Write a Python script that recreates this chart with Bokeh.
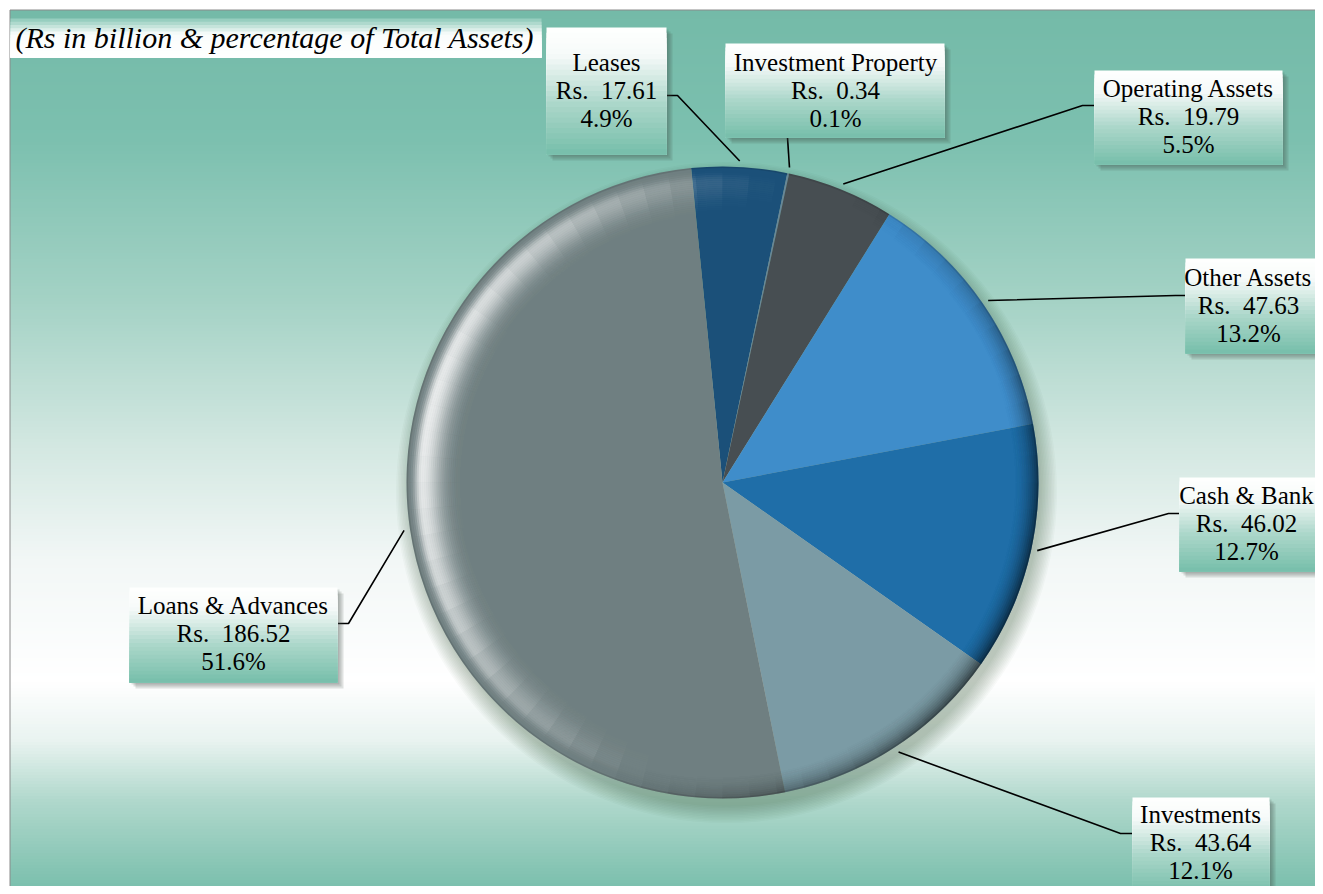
import numpy as np
from bokeh.plotting import figure
from bokeh.models import Range1d, ColumnDataSource
from bokeh.core.properties import value
from bokeh.embed import file_html
from bokeh.resources import INLINE

# ---------------- data ----------------
categories = ["Leases", "Investment Property", "Operating Assets", "Other Assets",
              "Cash & Bank", "Investments", "Loans & Advances"]
amounts = [17.61, 0.34, 19.79, 47.63, 46.02, 43.64, 186.52]
amount_labels = ["Rs.\u00a0 17.61", "Rs.\u00a0 0.34", "Rs.\u00a0 19.79", "Rs.\u00a0 47.63",
                 "Rs.\u00a0 46.02", "Rs.\u00a0 43.64", "Rs.\u00a0 186.52"]
percent_labels = ["4.9%", "0.1%", "5.5%", "13.2%", "12.7%", "12.1%", "51.6%"]
slice_colors = ["#1b5079", "#6a8799", "#474e52", "#3f8dca", "#1f6ea8", "#7b9ba5", "#6f7f81"]
title_text = "(Rs in billion & percentage of Total Assets)"

# ---------------- layout (picture pixel coords) ----------------
W, H = 1315, 886
CX, CY, R = 722, 482, 316
START_DEG = 95.7  # first slice starts just left of 12 o'clock, going clockwise

# label boxes: (x0, y0, x1, y1), text centre x, first line centre y, elbow point, end point
label_boxes = [
    ((546, 27, 666, 154), 606, 62, (677, 95), (666, 95)),
    ((725, 43, 944, 137), 835, 62, (787, 137), (787, 137)),
    ((1094, 70, 1282, 164), 1188, 88, (1082, 105), (1094, 105)),
    ((1185, 258, 1335, 353), 1248, 277, (1175, 295), (1185, 295)),
    ((1179, 477, 1335, 571), 1246, 495, (1168, 513), (1179, 513)),
    ((1132, 797, 1269, 892), 1200, 814, (1120, 833), (1132, 833)),
    ((129, 587, 337, 682), 233, 605, (348, 623), (337, 623)),
]
LINE_GAP = 28
FRAME_X, FRAME_Y = 9.5, 9.5


def py(y):
    return H - y


def lerp_stops(t, stops):
    for (t0, c0), (t1, c1) in zip(stops[:-1], stops[1:]):
        if t0 <= t <= t1:
            f = 0 if t1 == t0 else (t - t0) / (t1 - t0)
            c = [int(round(a + (b - a) * f)) for a, b in zip(c0, c1)]
            return "#%02x%02x%02x" % tuple(c)
    c = stops[-1][1] if t > stops[-1][0] else stops[0][1]
    return "#%02x%02x%02x" % tuple(c)


p = figure(width=W, height=H, output_backend="svg", toolbar_location=None,
           x_axis_type=None, y_axis_type=None, min_border=0,
           x_range=Range1d(0, W), y_range=Range1d(0, H))
p.grid.visible = False
p.outline_line_color = None
p.background_fill_color = "#ffffff"
p.border_fill_color = "#ffffff"

# ---------------- background gradient (stacked, overlapping strips) ----------------
bg_stops = [(8, (116, 186, 168)), (140, (124, 192, 175)), (300, (164, 210, 197)),
            (450, (212, 232, 226)), (560, (242, 247, 246)), (680, (255, 255, 255)),
            (740, (233, 243, 240)), (800, (176, 216, 204)), (894, (118, 189, 170))]
ys = np.arange(FRAME_Y, H, 3)
bg = ColumnDataSource(dict(
    left=[FRAME_X] * len(ys), right=[W] * len(ys),
    top=[py(y) for y in ys], bottom=[0] * len(ys),
    color=[lerp_stops(y + 1.5, bg_stops) for y in ys]))
p.quad(left="left", right="right", top="top", bottom="bottom", fill_color="color",
       line_color=None, source=bg)
p.line(x=[FRAME_X, FRAME_X, W], y=[0, py(FRAME_Y), py(FRAME_Y)],
       line_color="#8a8a8a", line_width=1)

# ---------------- pie shadow (soft, down-right) ----------------
for i in range(12):
    p.circle(x=CX + 4, y=py(CY + 10), radius=R - 2 + i * 1.5,
             fill_color="#1e3a34", fill_alpha=0.026, line_color=None)

# ---------------- pie ----------------
vals = np.array(amounts, dtype=float)
fr = vals / vals.sum()
cum = np.concatenate([[0], np.cumsum(fr)])
start = np.radians(START_DEG) - 2 * np.pi * cum[:-1]
end = np.radians(START_DEG) - 2 * np.pi * cum[1:]
pie = ColumnDataSource(dict(x=[CX] * len(vals), y=[py(CY)] * len(vals),
                            start=start, end=end, color=slice_colors, cat=categories))
p.wedge(x="x", y="y", radius=R, start_angle="start", end_angle="end",
        direction="clock", fill_color="color", line_color=None, source=pie)

# bevel shading: overlapping cells (each cell overlaps its neighbours by half)
light_dir = np.radians(168)
dark_dir = np.radians(335)
bx, by, ir, orr, sa, ea, cc, aa = [], [], [], [], [], [], [], []
for r0 in np.arange(R - 64, R - 1, 2.0):
    r1 = min(r0 + 4, R)
    rm = (r0 + r1) / 2
    for a0 in np.radians(np.arange(0, 360, 5)):
        am = a0 + np.radians(5)
        lt = np.cos(am - light_dir)
        if lt > 0:
            d = rm - (R - 15)
            sig = 14.0 if d < 0 else 5.0
            a = 0.85 * lt ** 1.4 * np.exp(-(d ** 2) / (2 * sig ** 2))
            if a >= 0.01:
                bx.append(CX); by.append(py(CY)); ir.append(r0); orr.append(r1)
                sa.append(a0); ea.append(a0 + np.radians(10)); cc.append("#ffffff")
                aa.append(1 - (1 - a) ** 0.25)
        dk = np.cos(am - dark_dir)
        if dk > 0:
            edge = max(0.0, (rm - (R - 26)) / 26.0) ** 2
            a = 0.6 * dk ** 1.2 * edge
            if a >= 0.01:
                bx.append(CX); by.append(py(CY)); ir.append(r0); orr.append(r1)
                sa.append(a0); ea.append(a0 + np.radians(10)); cc.append("#000000")
                aa.append(1 - (1 - a) ** 0.25)
p.annular_wedge(x="x", y="y", inner_radius="ir", outer_radius="orr",
                start_angle="sa", end_angle="ea", fill_color="c", fill_alpha="a",
                line_color=None,
                source=ColumnDataSource(dict(x=bx, y=by, ir=ir, orr=orr, sa=sa, ea=ea, c=cc, a=aa)))
p.annulus(x=CX, y=py(CY), inner_radius=R - 1.5, outer_radius=R,
          fill_color="#000000", fill_alpha=0.1, line_color=None)

# ---------------- leader lines ----------------
mid = (start + end) / 2
xs_l, ys_l = [], []
for i, (box, tcx, tcy, elbow, endp) in enumerate(label_boxes):
    ax = CX + (R + 6) * np.cos(mid[i])
    ay = CY - (R + 6) * np.sin(mid[i])
    xs_l.append([ax, elbow[0], endp[0]])
    ys_l.append([py(ay), py(elbow[1]), py(endp[1])])
p.multi_line(xs=xs_l, ys=ys_l, line_color="#000000", line_width=1.6)

# ---------------- label boxes ----------------
box_stops = [(0.0, (255, 255, 255)), (0.22, (246, 250, 249)), (0.6, (172, 215, 202)),
             (1.0, (118, 190, 170))]
sl, sr, st, sb, scol = [], [], [], [], []
shl, shr, sht, shb, sha = [], [], [], [], []
NS = 24
for box, tcx, tcy, elbow, endp in label_boxes:
    x0, y0, x1, y1 = box
    for off in [6, 4, 2]:
        shl.append(x0 + off); shr.append(x1 + off)
        sht.append(py(y0 + off)); shb.append(py(y1 + off)); sha.append(0.16)
    hgt = (y1 - y0) / NS
    for k in range(NS):
        sl.append(x0); sr.append(x1)
        st.append(py(y0 + k * hgt)); sb.append(py(y1))
        scol.append(lerp_stops((k + 0.5) / NS, box_stops))
p.quad(left="l", right="r", top="t", bottom="b", fill_color="#3c4a46", fill_alpha="a",
       line_color=None, source=ColumnDataSource(dict(l=shl, r=shr, t=sht, b=shb, a=sha)))
p.quad(left="l", right="r", top="t", bottom="b", fill_color="c", line_color=None,
       source=ColumnDataSource(dict(l=sl, r=sr, t=st, b=sb, c=scol)))

tx, ty, tt = [], [], []
for i, (box, tcx, tcy, elbow, endp) in enumerate(label_boxes):
    for j, line in enumerate([categories[i], amount_labels[i], percent_labels[i]]):
        tx.append(tcx); ty.append(py(tcy + j * LINE_GAP)); tt.append(line)
p.text(x="x", y="y", text="t", source=ColumnDataSource(dict(x=tx, y=ty, t=tt)),
       text_font=value("Liberation Serif"), text_font_size="25px",
       text_align="center", text_baseline="middle", text_color="#000000")

# ---------------- title box ----------------
title_stops = [(0.0, (140, 200, 184)), (0.4, (250, 253, 252)), (1.0, (255, 255, 255))]
tl, tr_, tt_, tb_, tc_ = [], [], [], [], []
for k in range(12):
    y0 = 18 + k * (57 - 18) / 12
    tl.append(10); tr_.append(541); tt_.append(py(y0)); tb_.append(py(57))
    tc_.append(lerp_stops((k + 0.5) / 12, title_stops))
p.quad(left="l", right="r", top="t", bottom="b", fill_color="c", line_color=None,
       source=ColumnDataSource(dict(l=tl, r=tr_, t=tt_, b=tb_, c=tc_)))
p.text(x=[15], y=[py(37)], text=[title_text], text_font=value("Liberation Serif"),
       text_font_size="30px", text_font_style="italic", text_align="left",
       text_baseline="middle", text_color="#000000")

open("out.html", "w").write(file_html(p, INLINE))
